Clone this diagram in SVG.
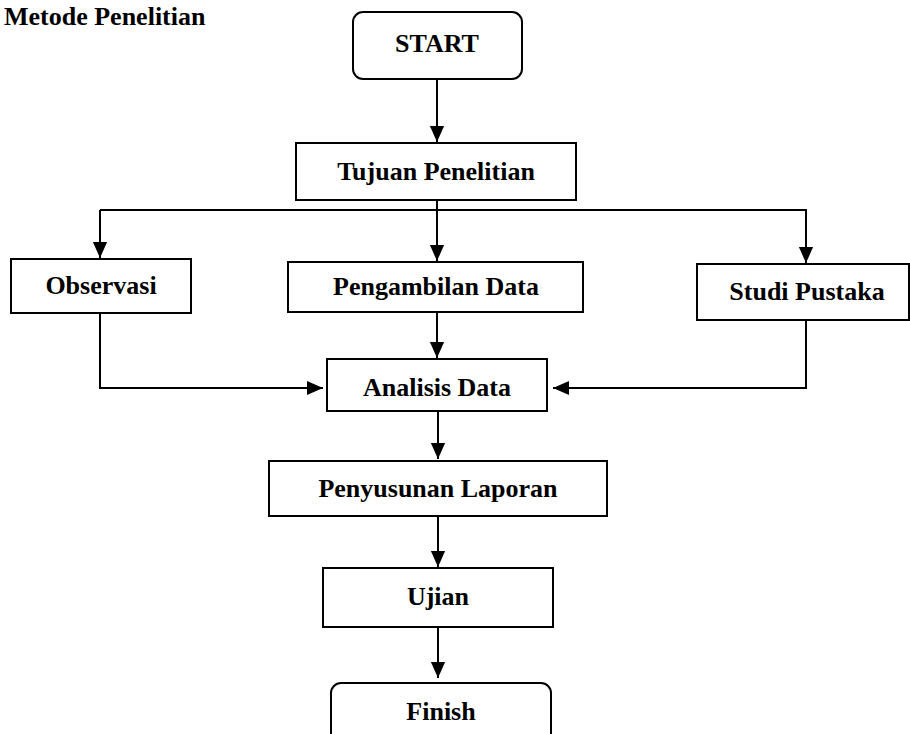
<svg xmlns="http://www.w3.org/2000/svg" width="910" height="734" viewBox="0 0 910 734">
<defs>
<style>
.box{fill:#fff;stroke:#000;stroke-width:2}
.t{font-family:"Liberation Serif","Times New Roman",serif;font-weight:bold;font-size:26px;fill:#000;text-anchor:middle}
.ln{fill:none;stroke:#000;stroke-width:2}
</style>
<marker id="ah" markerWidth="16" markerHeight="18" viewBox="0 0 18 16" refX="18" refY="8" orient="auto" markerUnits="userSpaceOnUse">
<path d="M0,0 L18,8 L0,16 Z" fill="#000"/>
</marker>
</defs>
<rect width="910" height="734" fill="#fff"/>
<text x="4" y="25" style="font-family:'Liberation Serif','Times New Roman',serif;font-weight:bold;font-size:26px" fill="#000">Metode Penelitian</text>
<g id="connectors">
<line class="ln" x1="437" y1="79" x2="437" y2="142" marker-end="url(#ah)"/>
<line class="ln" x1="437" y1="200" x2="437" y2="210"/>
<polyline class="ln" points="100,210 806,210 806,263" marker-end="url(#ah)"/>
<line class="ln" x1="100" y1="210" x2="100" y2="258" marker-end="url(#ah)"/>
<line class="ln" x1="437" y1="210" x2="437" y2="261" marker-end="url(#ah)"/>
<line class="ln" x1="437" y1="312" x2="437" y2="358" marker-end="url(#ah)"/>
<polyline class="ln" points="100,313 100,388 323,388" marker-end="url(#ah)"/>
<polyline class="ln" points="806,320 806,388 553,388" marker-end="url(#ah)"/>
<line class="ln" x1="438" y1="411" x2="438" y2="459" marker-end="url(#ah)"/>
<line class="ln" x1="438" y1="516" x2="438" y2="567" marker-end="url(#ah)"/>
<line class="ln" x1="438" y1="627" x2="438" y2="678" marker-end="url(#ah)"/>
</g>
<g id="start">
<rect class="box" x="353" y="12" width="169" height="67" rx="10"/>
<text class="t" x="437" y="52">START</text>
</g>
<g id="tujuan">
<rect class="box" x="296" y="143" width="280" height="57"/>
<text class="t" x="436" y="180">Tujuan Penelitian</text>
</g>
<g id="observasi">
<rect class="box" x="11" y="259" width="180" height="54"/>
<text class="t" x="101" y="294">Observasi</text>
</g>
<g id="pengambilan">
<rect class="box" x="288" y="262" width="295" height="50"/>
<text class="t" x="436" y="295">Pengambilan Data</text>
</g>
<g id="studi">
<rect class="box" x="697" y="264" width="212" height="56"/>
<text class="t" x="807" y="300">Studi Pustaka</text>
</g>
<g id="analisis">
<rect class="box" x="327" y="359" width="220" height="52"/>
<text class="t" x="437" y="396">Analisis Data</text>
</g>
<g id="penyusunan">
<rect class="box" x="269" y="461" width="338" height="55"/>
<text class="t" x="438" y="497">Penyusunan Laporan</text>
</g>
<g id="ujian">
<rect class="box" x="323" y="568" width="230" height="59"/>
<text class="t" x="438" y="605">Ujian</text>
</g>
<g id="finish">
<rect class="box" x="331" y="683" width="220" height="70" rx="10"/>
<text class="t" x="441" y="720">Finish</text>
</g>
</svg>
